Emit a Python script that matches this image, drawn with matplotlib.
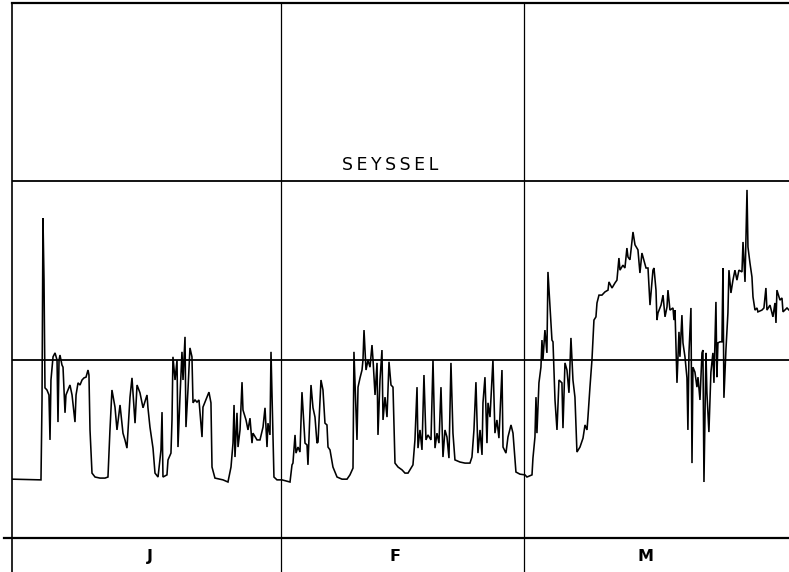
import matplotlib
matplotlib.use("Agg")
import matplotlib.pyplot as plt

# Discharge at Seyssel (m3/s) vs day of year (Jan 1 = 0)
jan_days = [0, 3.34, 3.46, 3.57, 3.69, 3.80, 4.03, 4.26, 4.38, 4.49, 4.73, 4.96, 5.19, 5.30, 5.42, 5.53,
            5.76, 5.88, 6.11, 6.22, 6.45, 6.68, 6.92, 7.26, 7.38, 7.61, 7.84, 8.07, 8.30, 8.53, 8.76, 8.87,
            8.99, 9.22, 9.57, 10.14, 10.72, 11.06, 11.29, 11.52, 11.87, 12.10, 12.45, 12.79, 13.02, 13.25,
            13.60, 13.83, 14.18, 14.41, 14.75, 15.10, 15.56, 15.67, 15.90, 16.25, 16.48, 16.83, 17.17, 17.29,
            17.40, 17.86, 17.98, 18.32, 18.44, 18.55, 18.79, 19.02, 19.13, 19.36, 19.59, 19.71, 19.94, 20.05,
            20.28, 20.51, 20.74, 20.86, 21.09, 21.32, 21.55, 21.90, 22.01, 22.47, 22.70, 22.93, 23.05, 23.39,
            24.32, 24.89, 25.24, 25.47, 25.59, 25.70, 25.93, 26.05, 26.28, 26.51, 26.62, 26.97, 27.20, 27.43,
            27.66, 27.77, 28.24, 28.58, 28.93, 29.16, 29.39, 29.50, 29.73, 29.85, 30.08, 30.19, 30.54]
jan_q = [165, 163, 387, 897, 723, 421, 415, 401, 275, 443, 508, 519, 499, 325, 499, 513,
         485, 479, 351, 401, 415, 429, 401, 325, 401, 435, 429, 443, 449, 451, 471, 457,
         303, 182, 171, 168, 168, 171, 303, 415, 367, 303, 373, 294, 275, 252,
         395, 449, 322, 429, 407, 365, 401, 365, 311, 252, 182, 171, 247, 353,
         171, 177, 219, 238, 331, 508, 443, 499, 255, 395, 522, 443, 564, 311,
         415, 533, 508, 379, 387, 381, 387, 283, 367, 395, 409, 379, 199, 168,
         163, 157, 199, 266, 373, 227, 351, 255, 303, 437, 359, 331, 303, 336,
         266, 294, 275, 275, 311, 365, 255, 322, 289, 522, 283, 171, 163]

feb_days = [31.12, 32.04, 32.27, 32.38, 32.62, 32.73, 32.96, 33.19, 33.42, 33.77, 34.00, 34.11, 34.46,
            34.69, 34.92, 35.15, 35.27, 35.61, 35.84, 36.07, 36.30, 36.42, 36.65, 36.99, 37.46, 38.03,
            38.61, 38.95, 39.30, 39.41, 39.76, 39.88, 40.11, 40.34, 40.45, 40.57, 40.80, 41.03, 41.26,
            41.49, 41.61, 41.84, 42.07, 42.18, 42.41, 42.64, 42.76, 42.99, 43.22, 43.45, 43.68, 43.91,
            44.14, 44.49, 44.95, 45.29, 45.64, 46.21, 46.44, 46.68, 46.79, 47.02, 47.25, 47.48, 47.71,
            47.94, 48.29, 48.52, 48.75, 48.98, 49.21, 49.44, 49.67, 49.90, 50.13, 50.36, 50.59, 50.82,
            51.05, 51.63, 52.21, 52.78, 53.01, 53.24, 53.47, 53.70, 53.94, 54.17, 54.28, 54.51, 54.74,
            54.86, 55.09, 55.43, 55.66, 55.89, 56.12, 56.47, 56.59, 56.93, 57.16, 57.51, 57.74, 58.08, 58.54]
feb_q = [163, 157, 205, 210, 289, 238, 255, 241, 409, 266, 261, 205, 429,
         365, 339, 266, 269, 443, 415, 322, 317, 255, 247, 199, 171, 165,
         165, 177, 196, 522, 275, 423, 449, 471, 499, 583, 471, 499, 479,
         541, 499, 401, 491, 289, 443, 527, 331, 395, 339, 494, 429, 423,
         210, 199, 191, 182, 182, 205, 275, 423, 252, 303, 247, 457, 275,
         289, 275, 499, 252, 294, 266, 423, 227, 303, 283, 224, 491, 294,
         219, 213, 210, 210, 227, 303, 437, 238, 303, 233, 379, 451, 266,
         379, 339, 499, 294, 331, 280, 471, 255, 238, 283, 317, 294, 185, 179]

mar_days = [59.12, 59.35, 59.93, 60.04, 60.27, 60.39, 60.50, 60.73, 60.96, 61.08, 61.19, 61.42, 61.65,
            61.77, 62.00, 62.23, 62.35, 62.58, 62.81, 63.04, 63.38, 63.50, 63.73, 63.96, 64.19, 64.42,
            64.65, 64.88, 65.11, 65.46, 65.81, 66.04, 66.27, 66.38, 66.61, 66.84, 67.07, 67.30, 67.42,
            67.65, 67.99, 68.34, 68.69, 68.80, 69.15, 69.49, 69.72, 69.95, 70.07, 70.41, 70.64, 70.87,
            70.99, 71.22, 71.57, 71.80, 72.14, 72.37, 72.60, 72.72, 73.07, 73.30, 73.53, 73.87, 73.99,
            74.22, 74.33, 74.45, 74.80, 75.03, 75.26, 75.49, 75.60, 75.83, 76.18, 76.29, 76.41, 76.64,
            76.87, 76.98, 77.21, 77.33, 77.56, 77.79, 77.90, 78.02, 78.25, 78.37, 78.48, 78.71, 78.94,
            79.06, 79.29, 79.52, 79.63, 79.75, 79.98, 80.09, 80.32, 80.55, 80.78, 80.90, 81.13, 81.24,
            81.36, 81.59, 81.82, 81.94, 82.05, 82.28, 82.51, 82.63, 82.86, 83.09, 83.32, 83.55, 83.78,
            84.13, 84.25, 84.48, 84.71, 84.82, 85.05, 85.28, 85.40, 85.63, 85.86, 85.97, 86.43, 86.66,
            86.89, 87.01, 87.36, 87.70, 87.93, 88.05, 88.16, 88.51, 88.74, 88.86, 89.32, 89.55, 90.0]
mar_q = [177, 171, 177, 224, 283, 395, 294, 435, 479, 555, 499, 583, 519,
         746, 648, 555, 550, 387, 303, 443, 435, 308, 491, 471, 407, 561,
         443, 395, 241, 255, 280, 317, 303, 339, 423, 499, 611, 620, 659,
         681, 681, 690, 695, 718, 701, 715, 723, 785, 751, 765, 757, 813,
         788, 780, 858, 822, 808, 743, 799, 788, 757, 757, 653, 751, 757,
         695, 611, 631, 653, 681, 620, 648, 695, 639, 645, 611, 639, 435,
         578, 508, 625, 547, 508, 449, 303, 519, 645, 210, 479, 465, 423,
         451, 387, 519, 527, 157, 519, 407, 297, 465, 519, 435, 662, 451,
         547, 550, 550, 757, 393, 527, 631, 751, 687, 723, 751, 723, 751,
         746, 830, 718, 976, 816, 771, 732, 676, 639, 645, 634, 639, 645,
         701, 639, 653, 620, 659, 603, 695, 667, 673, 634, 645, 639, 640]

month_labels = ["J", "F", "M"]
month_starts = [0, 31, 59]
month_label_pos = [15.9, 44.1, 73.0]
grid_levels = [500, 1000]
station = "SEYSSEL"

W, H = 789, 572
fig = plt.figure(figsize=(W / 100, H / 100), dpi=100)
ax = fig.add_axes([12 / W, 0.0, 1 - 12 / W, 1 - 3 / H])
ax.set_xlim(0, 89.55)
ax.set_ylim(-95.3, 1500)

days = jan_days + feb_days + mar_days
q = jan_q + feb_q + mar_q
ax.plot(days, q, color="black", lw=1.15, solid_joinstyle="miter")

for lv in grid_levels:
    ax.axhline(lv, color="black", lw=1.3)
ax.axhline(0, xmin=-0.01, xmax=1, color="black", lw=1.6, clip_on=False)
for d in month_starts[1:]:
    ax.axvline(d, color="black", lw=0.9)

for lab, pos in zip(month_labels, month_label_pos):
    ax.text(pos, -53, lab, ha="center", va="center", fontsize=11.5, fontweight="semibold",
            family="DejaVu Sans")

ax.text(43.6, 1046, "\u2009".join(station), ha="center", va="center",
        fontsize=12.5, family="DejaVu Sans")

for s in ["right", "bottom"]:
    ax.spines[s].set_visible(False)
ax.spines["left"].set_linewidth(1.2)
ax.spines["top"].set_linewidth(1.6)
ax.set_xticks([])
ax.set_yticks([])

fig.savefig("out.png", dpi=100)
